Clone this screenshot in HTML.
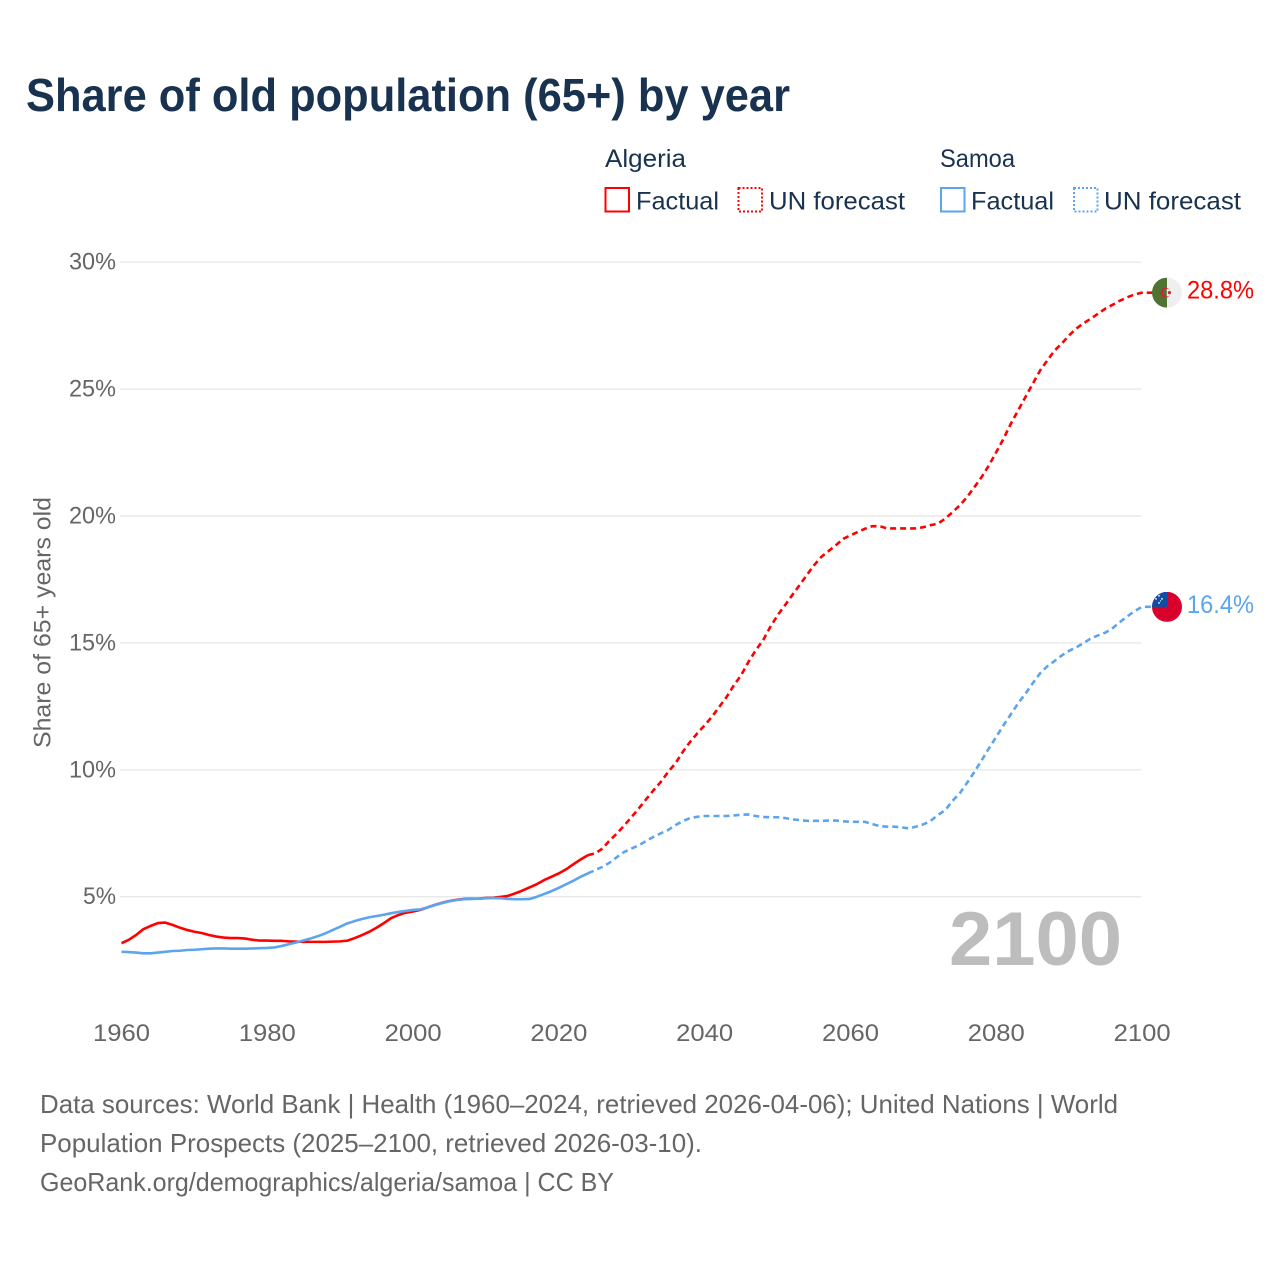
<!DOCTYPE html>
<html lang="en">
<head>
<meta charset="utf-8">
<title>Share of old population (65+) by year</title>
<style>
html,body{margin:0;padding:0;background:#fff;width:1280px;height:1280px;overflow:hidden}
svg{display:block}
text{font-family:"Liberation Sans",sans-serif}
</style>
</head>
<body>
<svg id="chart" width="1280" height="1280" viewBox="0 0 1280 1280" xmlns="http://www.w3.org/2000/svg">
  <rect width="1280" height="1280" fill="#fff"/>
  <text x="26" y="111" font-size="46" font-weight="700" fill="#18324f" textLength="764" lengthAdjust="spacingAndGlyphs">Share of old population (65+) by year</text>

  <g>
    <text x="605" y="167" font-size="25" fill="#18324f" textLength="81" lengthAdjust="spacingAndGlyphs">Algeria</text>
    <rect x="605.5" y="188" width="23.5" height="23.5" fill="none" stroke="#ff0000" stroke-width="2"/>
    <text x="636" y="209.5" font-size="25" fill="#18324f" textLength="83" lengthAdjust="spacingAndGlyphs">Factual</text>
    <rect x="738.5" y="188" width="23.5" height="23.5" fill="none" stroke="#ff0000" stroke-width="2" stroke-dasharray="2 2"/>
    <text x="769" y="209.5" font-size="25" fill="#18324f" textLength="136" lengthAdjust="spacingAndGlyphs">UN forecast</text>

    <text x="940" y="167" font-size="25" fill="#18324f" textLength="75" lengthAdjust="spacingAndGlyphs">Samoa</text>
    <rect x="941" y="188" width="23.5" height="23.5" fill="none" stroke="#5ba4ee" stroke-width="2"/>
    <text x="971" y="209.5" font-size="25" fill="#18324f" textLength="83" lengthAdjust="spacingAndGlyphs">Factual</text>
    <rect x="1074" y="188" width="23.5" height="23.5" fill="none" stroke="#5ba4ee" stroke-width="2" stroke-dasharray="2 2"/>
    <text x="1104" y="209.5" font-size="25" fill="#18324f" textLength="137" lengthAdjust="spacingAndGlyphs">UN forecast</text>
  </g>

  <text transform="translate(50.5,622.5) rotate(-90)" text-anchor="middle" font-size="24" fill="#666" textLength="251" lengthAdjust="spacingAndGlyphs">Share of 65+ years old</text>

  <g id="grid"></g>
  <g id="yticks"></g>
  <g id="xticks"></g>

  <text x="949" y="965" font-size="76" font-weight="700" fill="#bdbdbd" textLength="173" lengthAdjust="spacingAndGlyphs">2100</text>

  <g id="series"></g>

  <g id="flag-algeria">
    <clipPath id="clip-a"><circle cx="0" cy="0" r="15"/></clipPath>
    <g clip-path="url(#clip-a)">
      <rect x="-15" y="-15" width="15" height="30" fill="#4f7330"/>
      <rect x="0" y="-15" width="15" height="30" fill="#efefef"/>
    </g>
    <circle cx="-1.5" cy="0" r="5" fill="#d4213d"/>
    <circle cx="-0.2" cy="0" r="3.9" fill="#4f7330"/>
    <path d="M-0.2 -3.9A3.9 3.9 0 0 1 -0.2 3.9Z" fill="#efefef"/>
    <circle cx="2.4" cy="0" r="1.6" fill="#d4213d"/>
  </g>
  <text id="label-algeria" x="1187" font-size="25" fill="#ff0000" textLength="67" lengthAdjust="spacingAndGlyphs"></text>

  <g id="flag-samoa">
    <clipPath id="clip-s"><circle cx="0" cy="0" r="15"/></clipPath>
    <g clip-path="url(#clip-s)">
      <rect x="-15" y="-15" width="30" height="30" fill="#d9002b"/>
      <rect x="-15" y="-15" width="15" height="15" fill="#0e4fa5"/>
    </g>
    <circle cx="-8" cy="-11" r="0.9" fill="#fff"/>
    <circle cx="-11" cy="-8" r="0.9" fill="#fff"/>
    <circle cx="-5" cy="-8" r="0.9" fill="#fff"/>
    <circle cx="-8" cy="-4" r="0.9" fill="#fff"/>
    <circle cx="-6.5" cy="-6" r="0.6" fill="#fff"/>
  </g>
  <text id="label-samoa" x="1187" font-size="25" fill="#5ba4ee" textLength="67" lengthAdjust="spacingAndGlyphs"></text>

  <g>
    <text x="40" y="1113" font-size="26" fill="#666" textLength="1078" lengthAdjust="spacingAndGlyphs">Data sources: World Bank | Health (1960–2024, retrieved 2026-04-06); United Nations | World</text>
    <text x="40" y="1152" font-size="26" fill="#666" textLength="662" lengthAdjust="spacingAndGlyphs">Population Prospects (2025–2100, retrieved 2026-03-10).</text>
    <text x="40" y="1191" font-size="26" fill="#666" textLength="574" lengthAdjust="spacingAndGlyphs">GeoRank.org/demographics/algeria/samoa | CC BY</text>
  </g>
</svg>
<script>
var startYear = 1960;
var lastFactualYear = 2024;
var yTickValues = [5, 10, 15, 20, 25, 30];
var xTickYears = [1960, 1980, 2000, 2020, 2040, 2060, 2080, 2100];

var algeriaFactual = [
3.17,3.30,3.49,3.72,3.85,3.96,3.98,3.89,3.78,3.69,
3.62,3.57,3.49,3.43,3.39,3.37,3.37,3.35,3.30,3.27,
3.27,3.26,3.26,3.24,3.23,3.22,3.22,3.22,3.22,3.23,
3.24,3.27,3.37,3.49,3.62,3.78,3.96,4.16,4.28,4.37,
4.42,4.48,4.58,4.68,4.76,4.83,4.88,4.91,4.92,4.92,
4.95,4.96,4.99,5.03,5.13,5.24,5.37,5.50,5.66,5.79,
5.92,6.08,6.28,6.47,6.64
];
var algeriaForecast = [
6.71,6.90,7.23,7.50,7.82,8.15,8.49,8.85,9.20,9.53,
9.92,10.26,10.71,11.10,11.44,11.76,12.09,12.48,12.87,13.33,
13.73,14.25,14.71,15.10,15.63,16.09,16.48,16.88,17.27,17.67,
18.06,18.39,18.62,18.85,19.10,19.24,19.37,19.50,19.60,19.60,
19.51,19.51,19.51,19.51,19.51,19.56,19.64,19.70,19.90,20.15,
20.42,20.75,21.14,21.54,22.00,22.52,23.05,23.64,24.16,24.69,
25.21,25.73,26.13,26.52,26.80,27.12,27.39,27.60,27.78,27.98,
28.18,28.33,28.49,28.62,28.73,28.80
];
var samoaFactual = [
2.83,2.82,2.80,2.77,2.77,2.80,2.83,2.86,2.87,2.90,
2.91,2.93,2.95,2.96,2.96,2.95,2.95,2.95,2.96,2.97,
2.98,3.00,3.06,3.13,3.20,3.28,3.36,3.45,3.56,3.69,
3.82,3.95,4.04,4.12,4.19,4.24,4.29,4.35,4.40,4.44,
4.48,4.50,4.58,4.67,4.75,4.82,4.87,4.90,4.91,4.92,
4.94,4.95,4.94,4.91,4.90,4.90,4.91,5.00,5.11,5.22,
5.35,5.49,5.63,5.79,5.92
];
var samoaForecast = [
6.05,6.18,6.35,6.57,6.77,6.90,7.03,7.20,7.36,7.50,
7.63,7.82,7.98,8.10,8.15,8.18,8.18,8.18,8.18,8.20,
8.23,8.24,8.18,8.14,8.13,8.13,8.10,8.05,8.02,7.99,
7.99,7.99,8.00,8.00,7.97,7.95,7.95,7.95,7.86,7.78,
7.76,7.76,7.73,7.69,7.76,7.85,7.99,8.22,8.41,8.78,
9.08,9.49,9.92,10.38,10.85,11.30,11.76,12.19,12.62,13.00,
13.41,13.80,14.08,14.29,14.51,14.69,14.83,15.00,15.18,15.30,
15.41,15.59,15.83,16.05,16.26,16.42
];

var SVGNS = 'http://www.w3.org/2000/svg';
function xScale(year){ return 121.5 + (year - 1960) * 7.29; }
function yScale(v){ return 896.7 - (v - 5) * 25.38; }
function make(tag, parentId){
  var el = document.createElementNS(SVGNS, tag);
  document.getElementById(parentId).appendChild(el);
  return el;
}
function linePath(values, firstYear, prefix){
  var d = prefix;
  for (var i = 0; i < values.length; i++){
    d += (d ? 'L' : 'M') + xScale(firstYear + i).toFixed(2) + ' ' + yScale(values[i]).toFixed(2);
  }
  return d;
}

yTickValues.forEach(function(v){
  var line = make('line', 'grid');
  
  
  line.setAttribute('x1', 120);
  line.setAttribute('x2', 1141.5);
  line.setAttribute('y1', yScale(v));
  line.setAttribute('y2', yScale(v));
  line.setAttribute('stroke', '#e9e9e9');
  line.setAttribute('stroke-width', '1.4');

  var label = make('text', 'yticks');
  
  
  label.setAttribute('x', 116);
  label.setAttribute('y', yScale(v) + 7.5);
  label.setAttribute('text-anchor', 'end');
  label.setAttribute('font-size', '24');
  label.setAttribute('fill', '#666');
  label.setAttribute('textLength', v < 10 ? 33 : 47);
  label.setAttribute('lengthAdjust', 'spacingAndGlyphs');
  label.textContent = v + '%';
});

xTickYears.forEach(function(year){
  var label = make('text', 'xticks');
  
  
  label.setAttribute('x', xScale(year));
  label.setAttribute('y', 1041);
  label.setAttribute('text-anchor', 'middle');
  label.setAttribute('font-size', '24');
  label.setAttribute('fill', '#666');
  label.setAttribute('textLength', 57);
  label.setAttribute('lengthAdjust', 'spacingAndGlyphs');
  label.textContent = String(year);
});

function strokeLine(el, d, color, dashed){
  el.setAttribute('d', d);
  el.setAttribute('fill', 'none');
  el.setAttribute('stroke', color);
  el.setAttribute('stroke-width', dashed ? '2.6' : '2.6');
  el.setAttribute('stroke-linejoin', 'round');
  if (dashed) el.setAttribute('stroke-dasharray', '6 4');
}
function joinPoint(values){
  return 'M' + xScale(lastFactualYear).toFixed(2) + ' ' + yScale(values[values.length - 1]).toFixed(2);
}
function flagConnector(values){
  return 'L1153 ' + yScale(values[values.length - 1]).toFixed(2);
}

var algeriaFactualLine = make('path', 'series');


strokeLine(algeriaFactualLine, linePath(algeriaFactual, startYear, ''), '#ff0000', false);

var algeriaForecastLine = make('path', 'series');


strokeLine(algeriaForecastLine, linePath(algeriaForecast, lastFactualYear + 1, joinPoint(algeriaFactual)) + flagConnector(algeriaForecast), '#ff0000', true);

var samoaFactualLine = make('path', 'series');


strokeLine(samoaFactualLine, linePath(samoaFactual, startYear, ''), '#5ba4ee', false);

var samoaForecastLine = make('path', 'series');


strokeLine(samoaForecastLine, linePath(samoaForecast, lastFactualYear + 1, joinPoint(samoaFactual)) + flagConnector(samoaForecast), '#5ba4ee', true);

var algeriaEnd = algeriaForecast[algeriaForecast.length - 1];
var samoaEnd = samoaForecast[samoaForecast.length - 1];
document.getElementById('flag-algeria').setAttribute('transform', 'translate(1167,' + yScale(algeriaEnd) + ')');
document.getElementById('flag-samoa').setAttribute('transform', 'translate(1167,' + yScale(samoaEnd) + ')');
var labelA = document.getElementById('label-algeria');
labelA.setAttribute('y', yScale(algeriaEnd) + 6);
labelA.textContent = algeriaEnd.toFixed(1) + '%';
var labelS = document.getElementById('label-samoa');
labelS.setAttribute('y', yScale(samoaEnd) + 6);
labelS.textContent = samoaEnd.toFixed(1) + '%';
</script>
</body>
</html>
